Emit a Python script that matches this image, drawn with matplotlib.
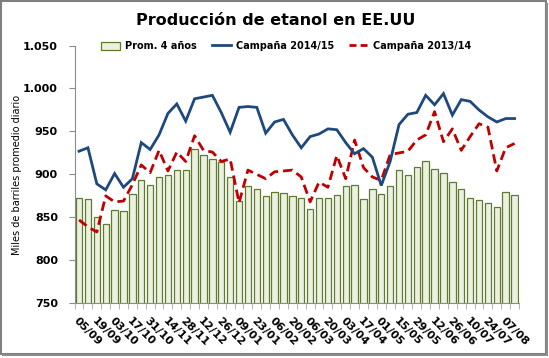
import matplotlib
matplotlib.use("Agg")
import matplotlib.pyplot as plt
from matplotlib.patches import Rectangle, Patch
from matplotlib.lines import Line2D

# weekly data, 05/09 .. 14/08 (50 weeks)
weeks = ["05/09", "12/09", "19/09", "26/09", "03/10", "10/10", "17/10", "24/10",
         "31/10", "07/11", "14/11", "21/11", "28/11", "05/12", "12/12", "19/12",
         "26/12", "02/01", "09/01", "16/01", "23/01", "30/01", "06/02", "13/02",
         "20/02", "27/02", "06/03", "13/03", "20/03", "27/03", "03/04", "10/04",
         "17/04", "24/04", "01/05", "08/05", "15/05", "22/05", "29/05", "05/06",
         "12/06", "19/06", "26/06", "03/07", "10/07", "17/07", "24/07", "31/07",
         "07/08", "14/08"]

prom_4 = [872, 871, 850, 842, 859, 857, 877, 893, 888, 897,
          899, 905, 905, 930, 923, 918, 914, 897, 869, 886,
          883, 875, 880, 878, 875, 872, 860, 872, 873, 876,
          887, 888, 871, 883, 877, 886, 905, 899, 909, 916,
          906, 902, 891, 883, 873, 870, 867, 862, 879, 876]

camp_1415 = [927, 931, 889, 882, 901, 885, 895, 937, 929, 946,
             971, 982, 962, 988, 990, 992, 972, 949, 978, 979,
             978, 948, 961, 964, 946, 931, 944, 947, 953, 952,
             937, 924, 930, 920, 887, 915, 958, 970, 972, 992,
             981, 994, 969, 987, 985, 975, 967, 961, 965, 965]

camp_1314 = [847, 839, 833, 875, 868, 869, 888, 911, 902, 928,
             904, 926, 915, 945, 928, 926, 915, 918, 867, 905,
             900, 895, 903, 904, 905, 897, 868, 891, 885, 922,
             895, 940, 908, 897, 893, 923, 925, 927, 940, 946,
             973, 938, 953, 928, 944, 959, 955, 904, 931, 936]

yticks = [750, 800, 850, 900, 950, 1000, 1050]

fig = plt.figure(figsize=(5.49, 3.58), dpi=100)
ax = fig.add_axes([0.1359, 0.1528, 0.8095, 0.7201])

x = list(range(len(weeks)))
ax.bar(x, prom_4, width=0.72, bottom=0, color="#EBF1DE", edgecolor="#5E7A30",
       linewidth=0.9, zorder=1)
ax.plot(x, camp_1415, color="#1F497D", lw=2.0, zorder=3, solid_joinstyle="miter")
ax.plot(x, camp_1314, color="#C00000", lw=2.0, ls=(0, (3.4, 1.8)), zorder=2)

ax.set_xlim(-0.5, len(weeks) - 0.5)
ax.set_ylim(750, 1050)
ax.set_yticks(yticks)
ax.set_yticklabels([f"{v:,}".replace(",", ".") for v in yticks],
                   fontsize=8, fontweight="bold")
ax.tick_params(axis="y", direction="out", length=4, color="#8c8c8c", pad=8)

# labels at every other week, boundary tick marks
ax.set_xticks([i for i in x if i % 2 == 0])
ax.set_xticklabels([weeks[i] for i in x if i % 2 == 0], rotation=-45,
                   ha="left", va="top", rotation_mode="anchor",
                   fontsize=8, fontweight="bold")
ax.tick_params(axis="x", which="major", length=0, pad=9)
ax.set_xticks([i - 0.5 for i in range(len(weeks) + 1)], minor=True)
ax.tick_params(axis="x", which="minor", direction="out", length=4, color="#a6a6a6")

for s in ["top", "right"]:
    ax.spines[s].set_visible(False)
for s in ["left", "bottom"]:
    ax.spines[s].set_color("#8c8c8c")

fig.text(0.503, 0.944, "Producción de etanol en EE.UU", ha="center", va="center",
         fontsize=11.5, fontweight="bold")
fig.text(0.031, 0.51, "Miles de barriles promedio diario", rotation=90,
         ha="center", va="center", fontsize=7)

handles = [Patch(facecolor="#EBF1DE", edgecolor="#5E7A30", lw=0.9),
           Line2D([], [], color="#1F497D", lw=2.0),
           Line2D([], [], color="#C00000", lw=2.0, ls=(0, (2.5, 1.5)))]
labels = ["Prom. 4 años", "Campaña 2014/15", "Campaña 2013/14"]
fig.legend(handles, labels, loc="center", bbox_to_anchor=(0.521, 0.8715), ncol=3,
           frameon=False, prop={"size": 7, "weight": "bold"}, handlelength=2.0,
           handleheight=0.9, columnspacing=1.5, handletextpad=0.5)

# chart frame
fig.patches.append(Rectangle((0.002, 0.012), 0.992, 0.985, transform=fig.transFigure,
                             fill=False, edgecolor="#7f7f7f", lw=1.5))
fig.patches.append(Rectangle((0.004, 0.006), 0.992, 0.006, transform=fig.transFigure,
                             color="#8c8c8c", lw=0))
fig.patches.append(Rectangle((0.994, 0.006), 0.005, 0.985, transform=fig.transFigure,
                             color="#8c8c8c", lw=0))

fig.savefig("out.png", dpi=100)
